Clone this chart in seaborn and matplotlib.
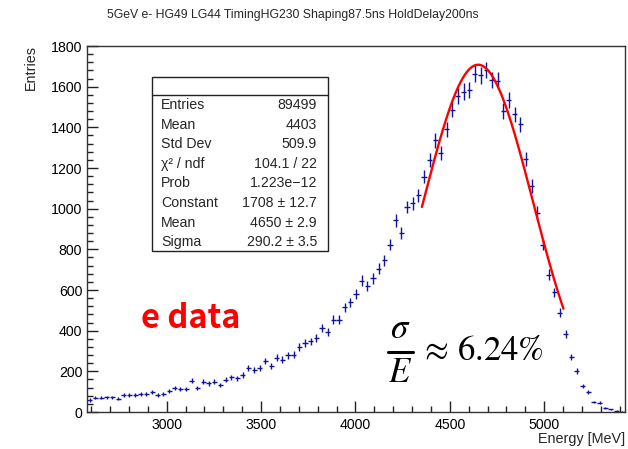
import numpy as np
import pandas as pd
import seaborn as sns
import matplotlib
matplotlib.use("Agg")
import matplotlib.pyplot as plt
from matplotlib.patches import Rectangle
from matplotlib.lines import Line2D
from matplotlib.ticker import MultipleLocator

# ---------------- data ----------------
bin_low = 2578.0
bin_width = 30.0
counts = [59, 71, 71, 72, 72, 66, 82, 82, 82, 89,
          89, 97, 82, 87, 104, 117, 112, 112, 154, 117,
          150, 141, 148, 133, 158, 171, 166, 182, 215, 208,
          218, 250, 225, 268, 258, 278, 281, 320, 339, 347,
          365, 414, 392, 454, 454, 514, 539, 580, 646, 618,
          657, 705, 746, 823, 942, 882, 1008, 1027, 1066, 1158,
          1240, 1337, 1274, 1390, 1487, 1556, 1576, 1582, 1664, 1655,
          1682, 1633, 1630, 1480, 1534, 1464, 1415, 1245, 1111, 980,
          823, 676, 588, 487, 385, 270, 202, 128, 100, 49,
          46, 18, 13, 6, 2]

fit_constant = 1708.0
fit_mean = 4650.0
fit_sigma = 290.2
fit_range = [4352.0, 5102.0]

stat_labels = ["Entries", "Mean", "Std Dev", "χ² / ndf", "Prob",
               "Constant", "Mean", "Sigma"]
stat_values = ["89499", "4403", "509.9", "104.1 / 22", "1.223e−12",
               "1708 ± 12.7", "4650 ± 2.9", "290.2 ± 3.5"]

title = "5GeV e- HG49 LG44 TimingHG230 Shaping87.5ns HoldDelay200ns"
x_title = "Energy [MeV]"
y_title = "Entries"

# ---------------- style ----------------
sns.set_theme(style="ticks")
plt.rcParams["font.family"] = ["Liberation Sans", "DejaVu Sans"]
plt.rcParams["mathtext.fontset"] = "stix"

W, H = 628, 449
fig = plt.figure(figsize=(W / 100, H / 100), dpi=100)
fig.patch.set_facecolor("white")
L, R, T, B = 87, 625, 46, 412
ax = fig.add_axes([L / W, 1 - B / H, (R - L) / W, (B - T) / H])
ax.set_facecolor("white")

centers = bin_low + bin_width * (np.arange(len(counts)) + 0.5)
df = pd.DataFrame({"energy": centers, "entries": counts})
df["err"] = np.sqrt(df["entries"])

ax.errorbar(df["energy"], df["entries"], xerr=bin_width / 2 * 0.9,
            yerr=df["err"], fmt="none", ecolor="#14149a", elinewidth=1.0,
            capsize=0, zorder=3)

xf = np.linspace(fit_range[0], fit_range[1], 300)
fit_df = pd.DataFrame({"x": xf,
                       "y": fit_constant * np.exp(-0.5 * ((xf - fit_mean) / fit_sigma) ** 2)})
sns.lineplot(data=fit_df, x="x", y="y", ax=ax, color="#ff0000", lw=1.7, zorder=4)

ax.set_xlim(bin_low, bin_low + bin_width * len(counts))
ax.set_ylim(0, 1800)
ax.xaxis.set_major_locator(MultipleLocator(500))
ax.xaxis.set_minor_locator(MultipleLocator(100))
ax.yaxis.set_major_locator(MultipleLocator(200))
ax.yaxis.set_minor_locator(MultipleLocator(40))
ax.tick_params(axis="both", which="major", direction="in", length=8,
               width=1.0, color="#222222", labelsize=10.2, labelcolor="black")
ax.tick_params(axis="both", which="minor", direction="in", length=4,
               width=1.0, color="#222222")
ax.tick_params(axis="x", pad=4.0)
ax.tick_params(axis="y", pad=3.5)
ax.set_xlabel("")
ax.set_ylabel("")
for s in ax.spines.values():
    s.set_color("#333333")
    s.set_linewidth(1.0)

# titles
fig.text(292.5 / W, 1 - 15 / H, title, ha="center", va="center", fontsize=8.85)
fig.text(625 / W, 1 - 438.5 / H, x_title, ha="right", va="center", fontsize=10.4)
fig.text(31 / W, 1 - 45 / H, y_title, ha="center", va="top", rotation=90, fontsize=10.4)

# stats box
bx0, bx1, by0, by1 = 152, 328, 77, 251
fig.patches.append(Rectangle((bx0 / W, 1 - by1 / H), (bx1 - bx0) / W, (by1 - by0) / H,
                             transform=fig.transFigure, facecolor="white",
                             edgecolor="#222222", lw=1.0, zorder=5))
fig.lines.append(Line2D([bx0 / W, bx1 / W], [1 - 95 / H, 1 - 95 / H],
                        transform=fig.transFigure, color="#222222", lw=1.0, zorder=6))
row_y0, row_dy = 105, 19.6
for i, (lab, val) in enumerate(zip(stat_labels, stat_values)):
    yy = 1 - (row_y0 + i * row_dy) / H
    fig.text(161 / W, yy, lab, ha="left", va="center", fontsize=10.2, zorder=7)
    fig.text(317 / W, yy, val, ha="right", va="center", fontsize=10.2, zorder=7)

# annotations
fig.text(191 / W, 1 - 318 / H, "e data", ha="center", va="center", color="#ff0000",
         fontsize=23.5, fontweight="bold", family=["Noto Sans CJK SC", "DejaVu Sans"])
fig.text(400 / W, 1 - 329 / H, r"$\sigma$", ha="center", va="center", fontsize=25, color="black")
fig.text(400 / W, 1 - 372 / H, r"$E$", ha="center", va="center", fontsize=25, color="black")
fig.lines.append(Line2D([388 / W, 413 / W], [1 - 352 / H, 1 - 352 / H],
                        transform=fig.transFigure, color="black", lw=2.2))
fig.text(419 / W, 1 - 350 / H, r"$\approx\, 6.24\%$", ha="left", va="center",
         fontsize=25, color="black")

fig.savefig("out.png", dpi=100)
